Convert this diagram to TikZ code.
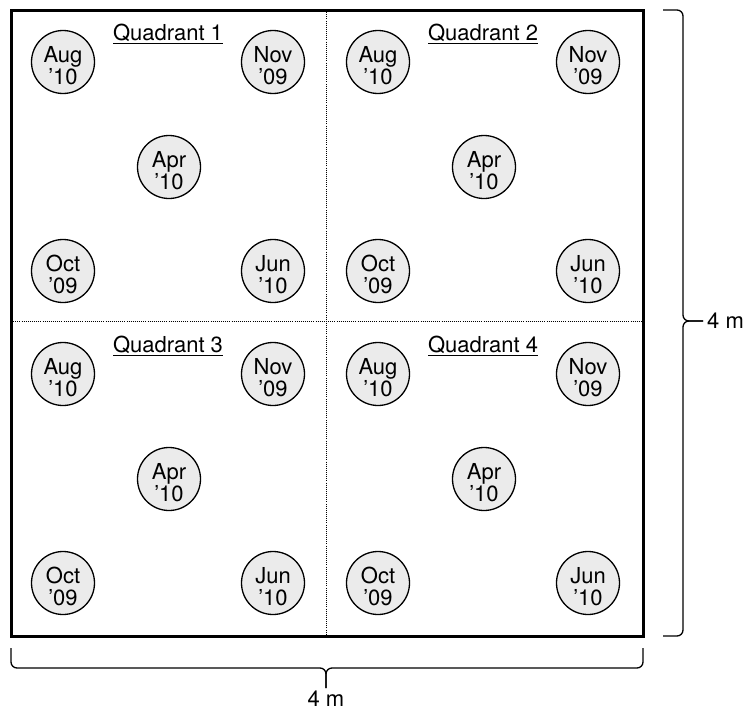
\documentclass[tikz,border=0pt]{standalone}
\usepackage{fontspec}
\setmainfont{TeX Gyre Heros}
\usetikzlibrary{calc}
\newcommand{\sampledate}[2]{\rule{0pt}{23pt}#1\\#2}
\begin{document}
\begin{tikzpicture}[x=1pt,y=-1pt,font=\fontsize{22}{22}\selectfont,
  month/.style={circle,draw,line width=1.3pt,fill=black!8,minimum size=63pt,inner sep=0pt,align=center},
  quad label/.style={inner sep=0pt},
  field edge/.style={line width=3pt},
  divider/.style={line width=0.9pt,dash pattern=on 0.9pt off 1.2pt},
  brace line/.style={line width=1.3pt,rounded corners=6pt}]

\useasboundingbox (0,0) rectangle (744,712);

\coordinate (nw) at (11,10);
\coordinate (ne) at (643,10);
\coordinate (sw) at (11,636);
\coordinate (se) at (643,636);
\coordinate (ntop) at (326,10);
\coordinate (nbot) at (326,636);
\coordinate (wmid) at (11,321);
\coordinate (emid) at (643,321);

% the four quadrants
\foreach \q/\dx/\dy in {1/0/0, 2/315/0, 3/0/312, 4/315/312} {
\begin{scope}[shift={(\dx,\dy)}]
\node[quad label] (label\q) at (168,34) {\underline{Quadrant \q}};
\node[month] (aug\q) at (63,62) {\sampledate{Aug}{’10}};
\node[month] (nov\q) at (273,62) {\sampledate{Nov}{’09}};
\node[month] (apr\q) at (169,167) {\sampledate{Apr}{’10}};
\node[month] (oct\q) at (63,271) {\sampledate{Oct}{’09}};
\node[month] (jun\q) at (273,271) {\sampledate{Jun}{’10}};
\end{scope}
}

\draw[divider] (ntop) -- (nbot);
\draw[divider] (wmid) -- (emid);
\draw[field edge] (nw) rectangle (se);

% right brace
\draw[brace line] ($(ne)+(20,0)$) -- ($(ne)+(40,0)$) -- ($(emid)+(40,0)$) -- ($(emid)+(60,0)$);
\draw[brace line] ($(emid)+(60,0)$) -- ($(emid)+(40,0)$) -- ($(se)+(40,0)$) -- ($(se)+(20,0)$);
\node[anchor=west,inner sep=0pt] (height) at ($(emid)+(64,0)$) {4 m};

% bottom brace
\draw[brace line] ($(sw)+(0,12)$) -- ($(sw)+(0,32)$) -- ($(nbot)+(0,32)$) -- ($(nbot)+(0,52)$);
\draw[brace line] ($(nbot)+(0,52)$) -- ($(nbot)+(0,32)$) -- ($(se)+(0,32)$) -- ($(se)+(0,12)$);
\node[inner sep=0pt] (width) at ($(nbot)+(0,63)$) {4 m};

\end{tikzpicture}
\end{document}
